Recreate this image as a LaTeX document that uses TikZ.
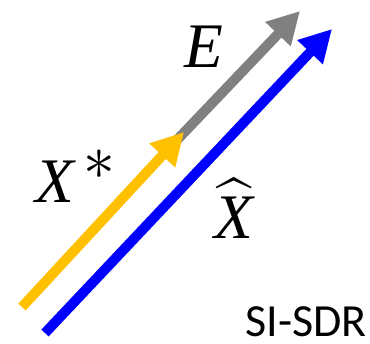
\documentclass[tikz,border=0pt]{standalone}
\usepackage{amsmath,amssymb}
\usepackage{fontspec}
\newfontfamily\labelfont{Carlito}
\newfontfamily\symfont{Liberation Serif}
\usepackage{tikz}
\usetikzlibrary{arrows.meta}
\definecolor{vgold}{HTML}{FFC000}
\definecolor{vgray}{HTML}{808080}
\definecolor{vblue}{HTML}{0000FF}
\newcommand{\vsym}[1]{\text{\symfont\itshape #1}}

\begin{document}
\begin{tikzpicture}[x=1pt,y=-1pt,
  vec/.style={line width=10pt, -{Triangle[length=32pt,width=33pt]}},
  sym/.style={font=\Huge, scale=2.55, inner sep=0pt}]
 \useasboundingbox (0,0) rectangle (370,344);
 % end points of the three vectors
 \coordinate (s0) at (22,307);
 \coordinate (s1) at (184,132);
 \coordinate (e0) at (176,141);
 \coordinate (e1) at (300,11);
 \coordinate (h0) at (45,333);
 \coordinate (h1) at (332,29);
 \draw[vec, vgray] (e0) -- (e1);
 \draw[vec, vgold] (s0) -- (s1);
 \draw[vec, vblue] (h0) -- (h1);
 % labels
 \node[sym, anchor=base] (lE) at (204,68) {$\vsym{E}$};
 \node[sym, anchor=base west] (lS) at (35,203) {$\vsym{X}^{\,\textstyle *}$};
 \node[sym, anchor=base] (lH) at (234,239) {$\widehat{\vsym{X}}$};
 \node[font=\labelfont\Huge, scale=1.85, inner sep=0pt, text depth=0pt, anchor=base west] (lM) at (245,337) {SI-SDR};
\end{tikzpicture}
\end{document}
